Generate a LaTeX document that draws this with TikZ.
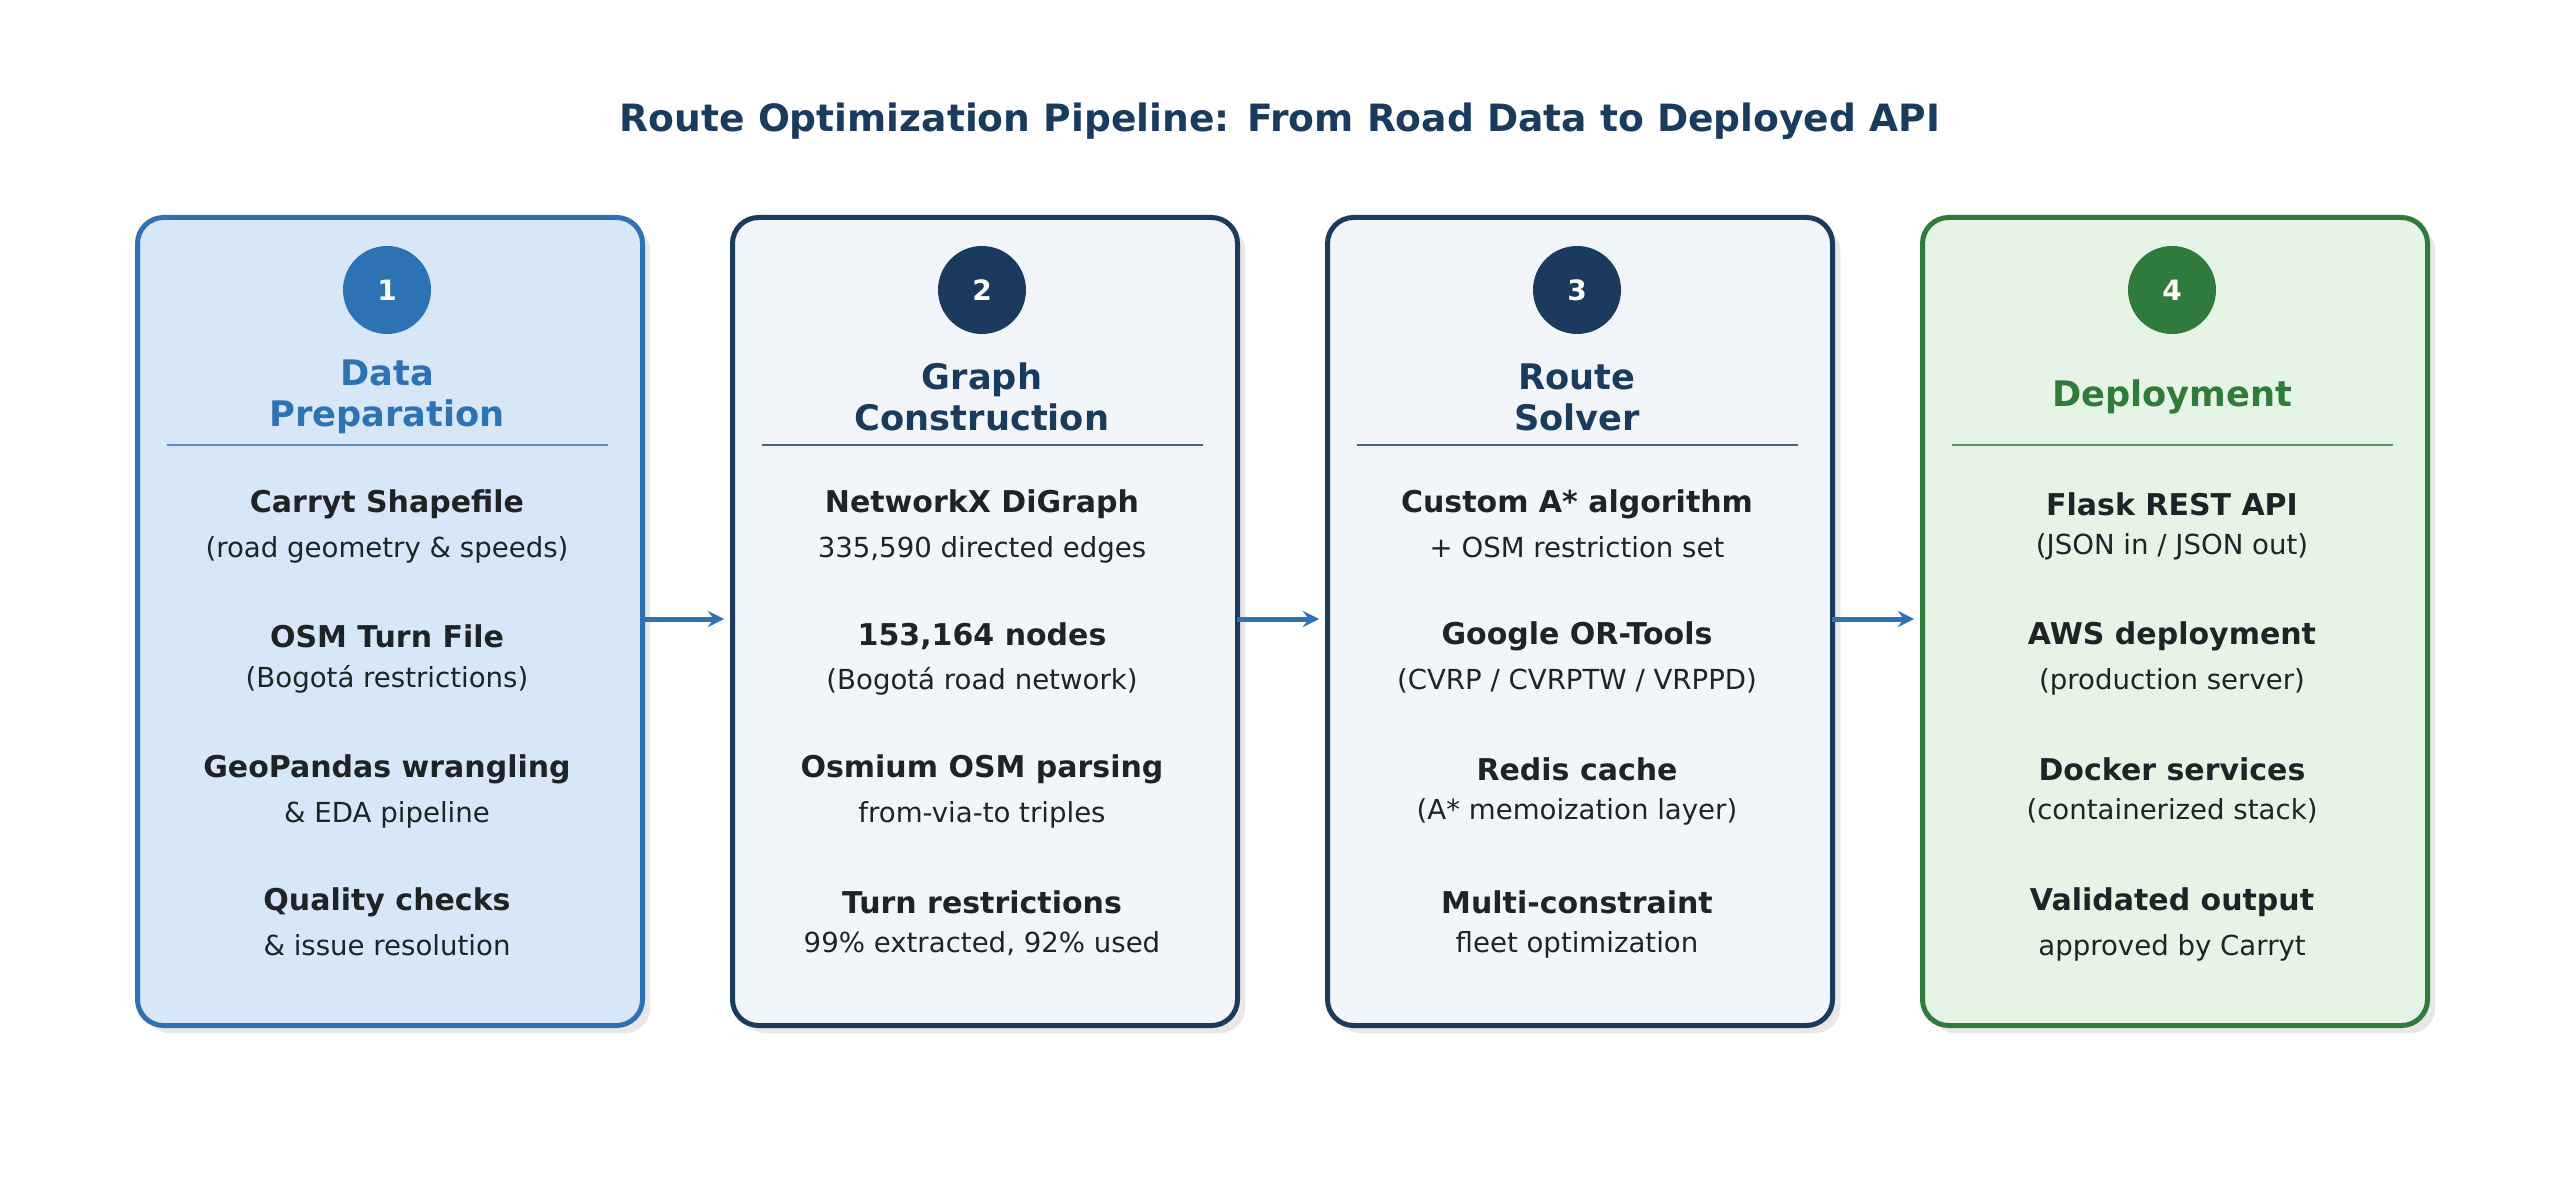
\documentclass[tikz,border=0pt]{standalone}
\usepackage{fontspec}
\setmainfont{DejaVu Sans}
\begin{document}
\definecolor{bluec}{HTML}{2E72B6}
\definecolor{bluef}{HTML}{D7E7F7}
\definecolor{navy}{HTML}{1B3B5E}
\definecolor{navyf}{HTML}{F2F6FB}
\definecolor{greenc}{HTML}{2E7B3B}
\definecolor{greenf}{HTML}{E6F4E6}
\definecolor{txt}{HTML}{1E2326}
\newcommand\itm[4]{%
  \node[hd] (#1h) at (#2) {#3};
  \node[sb,below=2pt of #1h.south,anchor=north] (#1s) {#4};}
\begin{tikzpicture}[x=0.5pt,y=-0.5pt,
  box/.style={draw=#1,line width=2.5pt,rounded corners=13pt,minimum width=252.5pt,minimum height=404pt,anchor=north west,inner sep=0pt},
  shadow/.style={fill=black!9,rounded corners=13pt,minimum width=252.5pt,minimum height=404pt,anchor=north west,inner sep=0pt},
  num/.style={circle,fill=#1,minimum size=44pt,inner sep=0pt,text=white,font=\fontsize{14}{16}\selectfont\bfseries},
  stitle/.style={text=#1,font=\fontsize{17.6}{20.5}\selectfont\bfseries,align=center},
  hd/.style={text=txt,font=\fontsize{15}{17}\selectfont\bfseries},
  sb/.style={text=txt,font=\fontsize{13.8}{16}\selectfont},
  arr/.style={->,>=stealth,draw=bluec,line width=2.5pt}]
\usetikzlibrary{positioning}
\useasboundingbox (0,0) rectangle (2560,1203);
\node[text=navy,font=\fontsize{18.8}{22}\selectfont\bfseries] (title) at (1280,121) {Route Optimization Pipeline: From Road Data to Deployed API};
\foreach \i/\x/\c/\f in {1/135/bluec/bluef,2/730/navy/navyf,3/1325/navy/navyf,4/1920/greenc/greenf}{
  \node[shadow] (s\i) at (\x+10,225) {};
  \node[box=\c,fill=\f] (b\i) at (\x,215) {};
  \node[num=\c] (n\i) at (\x+252,290) {\i};
  \draw[\c!80,line width=1.2pt] (\x+32,445) -- (\x+473,445);
}
\node[stitle=bluec] (t1) at (387,397) {Data\\Preparation};
\node[stitle=navy] (t2) at (982,397) {Graph\\Construction};
\node[stitle=navy] (t3) at (1577,397) {Route\\Solver};
\node[stitle=greenc] (t4) at (2172,397) {Deployment};
\tikzset{node distance=2pt}
\itm{a1}{387,504}{Carryt Shapefile}{(road geometry \& speeds)}
\itm{a2}{387,636}{OSM Turn File}{(Bogotá restrictions)}
\itm{a3}{387,769}{GeoPandas wrangling}{\& EDA pipeline}
\itm{a4}{387,902}{Quality checks}{\& issue resolution}
\itm{b1x}{982,504}{NetworkX DiGraph}{335,590 directed edges}
\itm{b2x}{982,636}{153,164 nodes}{(Bogotá road network)}
\itm{b3x}{982,769}{Osmium OSM parsing}{from-via-to triples}
\itm{b4x}{982,902}{Turn restrictions}{99\% extracted, 92\% used}
\itm{c1}{1577,504}{Custom A* algorithm}{+ OSM restriction set}
\itm{c2}{1577,636}{Google OR-Tools}{(CVRP / CVRPTW / VRPPD)}
\itm{c3}{1577,769}{Redis cache}{(A* memoization layer)}
\itm{c4}{1577,902}{Multi-constraint}{fleet optimization}
\itm{d1}{2172,504}{Flask REST API}{(JSON in / JSON out)}
\itm{d2}{2172,636}{AWS deployment}{(production server)}
\itm{d3}{2172,769}{Docker services}{(containerized stack)}
\itm{d4}{2172,902}{Validated output}{approved by Carryt}
\foreach \x in {642,1237,1832}{
  \coordinate (p\x) at (\x,619);
  \coordinate (q\x) at (\x+82,619);
  \draw[arr] (p\x) -- (q\x);
}
\end{tikzpicture}
\end{document}
